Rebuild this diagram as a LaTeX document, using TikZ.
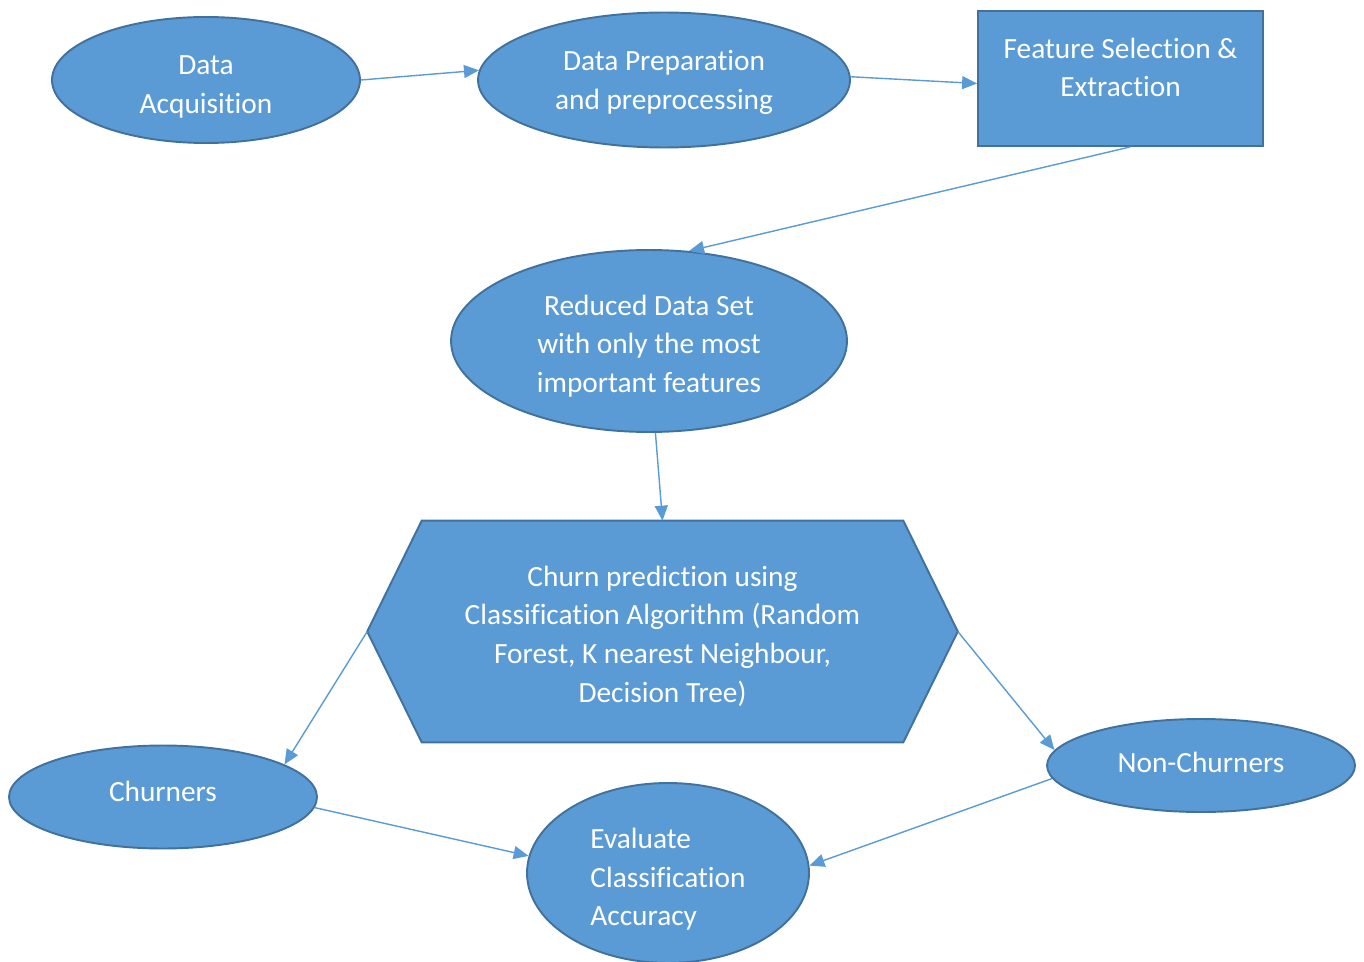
\documentclass[tikz,border=0pt]{standalone}
\usepackage{fontspec}
\setmainfont{Carlito}[Ligatures=NoCommon]
\usetikzlibrary{shapes.geometric,arrows.meta,backgrounds}
\definecolor{boxblue}{HTML}{5B9BD5}
\definecolor{edgeblue}{HTML}{41719C}
\begin{document}
\begin{tikzpicture}[x=0.02cm,y=-0.02cm]
        \tikzset{words/.style={text=white,align=center,inner sep=0pt,
                font=\fontsize{16.7}{22}\selectfont},
            blob/.style={words,ellipse,draw=edgeblue,fill=boxblue,line width=1.1pt},
            flat/.style={blob,rectangle},
            link/.style={draw=boxblue,line width=0.8pt,
                -{Triangle[length=0.3cm,width=0.26cm]}}}
        \useasboundingbox (0,0) rectangle (1364,962);
        \node[blob,minimum width=6.16cm,minimum height=2.52cm,
            label={[words,yshift=-0.14cm]center:Data\\Acquisition}] (acq) at (206,80) {};
        \node[blob,text depth=0pt,minimum width=7.44cm,minimum height=2.7cm] (prep) at (664,80) {Data Preparation\\and preprocessing};
        \node[flat,minimum width=5.7cm,minimum height=2.7cm,
            label={[words,yshift=0.22cm]center:Feature Selection \&\\Extraction}] (feat) at (1120.5,78.5) {};
        \node[blob,minimum width=7.92cm,minimum height=3.64cm,
            label={[words,yshift=-0.1cm]center:Reduced Data Set\\with only the most\\important features}] (reduced) at (649,341) {};
        \node[words,minimum width=9.62cm,minimum height=4.42cm,
            label={[words,yshift=-0.09cm]center:{Churn prediction using\\Classification Algorithm (Random\\Forest, K nearest Neighbour,\\Decision Tree)}}] (algo) at (662.5,631.5) {};
        \begin{scope}[on background layer]
            \draw[draw=edgeblue,fill=boxblue,line width=1.1pt] (algo.north west) -- (algo.north east)
                -- ([xshift=1.09cm]algo.east) -- (algo.south east) -- (algo.south west)
                -- ([xshift=-1.09cm]algo.west) -- cycle;
        \end{scope}
        \coordinate (algoleft) at ([xshift=-1.09cm]algo.west);
        \coordinate (algoright) at ([xshift=1.09cm]algo.east);
        \node[blob,text depth=6.8pt,minimum width=6.16cm,minimum height=2.06cm] (churn) at (163,797) {Churners};
        \node[blob,text depth=3.4pt,minimum width=6.16cm,minimum height=1.86cm] (nonchurn) at (1201,765.5) {Non-Churners};
        \node[blob,minimum width=5.64cm,minimum height=3.6cm,
            label={[words,align=left,yshift=-0.13cm]center:Evaluate\\Classification\\Accuracy}] (eval) at (668,873) {};
        \draw[link] (acq.-0.7) -- (prep.177.8);
        \draw[link] (prep.1.2) -- (feat.182.6);
        \draw[link] (feat.-82.2) -- (reduced.66.8);
        \draw[link] (reduced.-86.9) -- (algo.north);
        \draw[link] (algoleft) -- (churn.15.6);
        \draw[link] (algoright) -- (nonchurn.174.8);
        \draw[link] (churn.-4.1) -- (eval.173);
        \draw[link] (nonchurn.185.5) -- (eval.3.2);
\end{tikzpicture}
\end{document}
